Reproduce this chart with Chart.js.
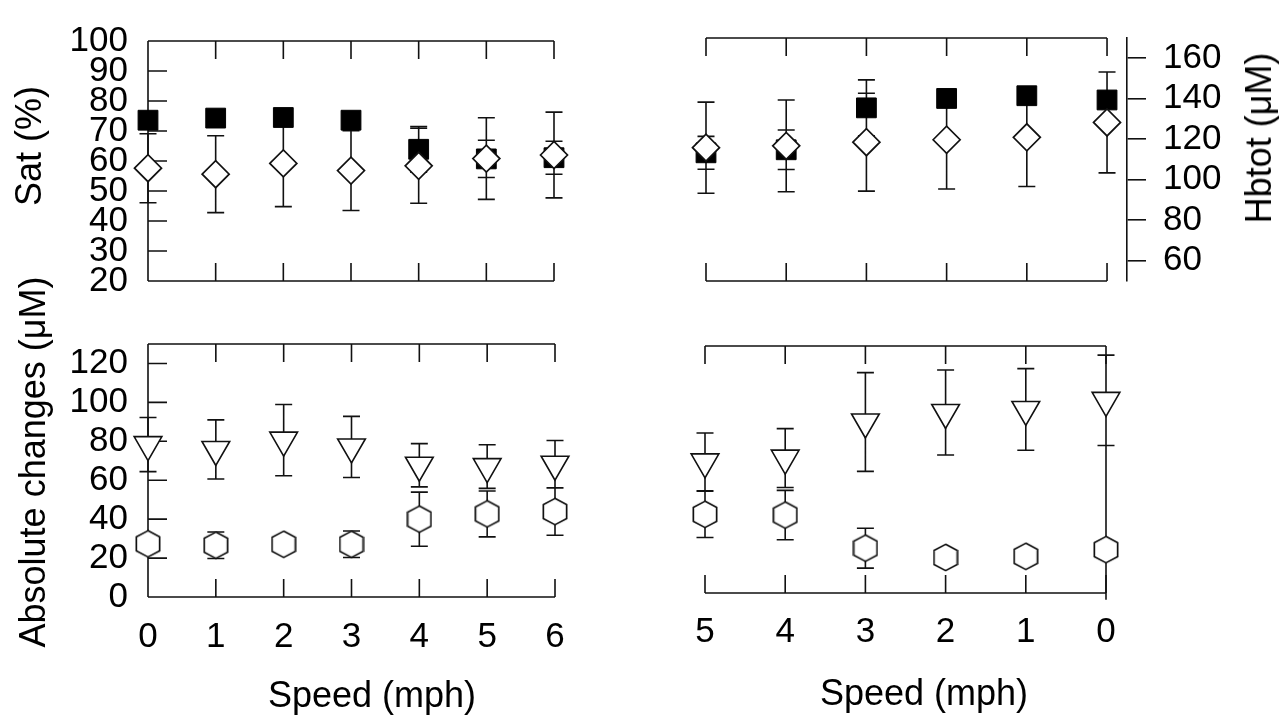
<!DOCTYPE html>
<html>
<head>
<meta charset="utf-8">
<script src="https://cdn.jsdelivr.net/npm/chart.js@4.4.1/dist/chart.umd.min.js"></script>
<style>
html,body{margin:0;padding:0;background:#fff;width:1280px;height:716px;overflow:hidden;}
#wrap{position:relative;width:1280px;height:716px;background:#fff;}
canvas{position:absolute;left:0;top:0;}
.t{position:absolute;font-family:'Liberation Sans',Arial,sans-serif;font-size:36px;color:#000;white-space:nowrap;line-height:1;}
.v{transform:translate(-50%,-50%) rotate(-90deg);}
.h{transform:translate(-50%,-50%);}
</style>
</head>
<body>
<div id="wrap">
<canvas id="cTL" width="1280" height="716"></canvas>
<canvas id="cTR" width="1280" height="716"></canvas>
<canvas id="cBL" width="1280" height="716"></canvas>
<canvas id="cBR" width="1280" height="716"></canvas>
<div class="t v" style="left:29px;top:146px">Sat (%)</div>
<div class="t v" style="left:33px;top:462px">Absolute changes (μM)</div>
<div class="t v" style="left:1259px;top:138px">Hbtot (μM)</div>
<div class="t h" style="left:372px;top:695px">Speed (mph)</div>
<div class="t h" style="left:924px;top:693px">Speed (mph)</div>
</div>
<script>
// ---------- data ----------
const speedL = [0, 1, 2, 3, 4, 5, 6];
const speedR = [5, 4, 3, 2, 1, 0];
const satTicks = [20, 30, 40, 50, 60, 70, 80, 90, 100];
const satInnerTicks = [30, 40, 50, 60, 70, 80, 90];
const hbTicks = [60, 80, 100, 120, 140, 160];
const absTicks = [0, 20, 40, 60, 80, 100, 120];
const absInnerTicks = [20, 40, 60, 80, 100, 120];

// top-left (Sat %, increasing speed)
const satSqL = [73.6, 74.3, 74.5, 73.6, 63.9, 60.7, 61.1];
const satSqLErr = [null, null, null, null, 7.6, 6.2, 5.5];
const satDiaL = [57.6, 55.6, 59.2, 56.8, 58.4, 60.8, 62.0];
const satDiaLErr = [11.5, 12.8, 14.4, 13.3, 12.5, 13.6, 14.3];

// top-right (decreasing speed)
const satSqR = [62.2, 63.2, 77.0, 80.1, 81.0, 79.6];
const satSqRErr = [5.4, 6.5, 9.2, null, null, null];
const satDiaR = [63.9, 64.5, 65.7, 66.5, 67.3, 72.2];
const satDiaRErr = [15.0, 15.1, 16.1, 16.2, 16.2, 16.6];

// bottom-left (absolute changes, µM)
const triL = [78.3, 75.8, 80.6, 77.1, 67.7, 67.0, 68.2];
const triLErr = [13.9, 15.2, 18.3, 15.7, 11.1, 11.2, 12.2];
const hexL = [27.3, 26.6, 27.1, 27.1, 40.0, 42.7, 43.9];
const hexLErr = [null, 6.8, null, 6.8, 13.9, 11.8, 12.2];

// bottom-right
const triR = [69.0, 71.0, 90.0, 95.0, 96.6, 101.4];
const triRErr = [15.2, 15.5, 26.0, 22.4, 21.5, 23.8];
const hexR = [41.4, 41.0, 23.6, 18.7, 19.3, 22.8];
const hexRErrLow = [12.2, 13.0, 10.5, null, null, 26.3];
const hexRErrHigh = [12.2, 13.0, 10.5, null, null, 54.8];

// ---------- styling ----------
const FS = 35;
Chart.defaults.font.family = "'Liberation Sans', Arial, sans-serif";
Chart.defaults.font.size = FS;
Chart.defaults.color = '#000';
const INK = '#111';

function hexImg(w, h, lw) {
  const c = document.createElement('canvas');
  c.width = w; c.height = h;
  const g = c.getContext('2d');
  const m = lw / 2 + 0.5;
  g.beginPath();
  g.moveTo(w / 2, m);
  g.lineTo(w - m, h * 0.26);
  g.lineTo(w - m, h * 0.74);
  g.lineTo(w / 2, h - m);
  g.lineTo(m, h * 0.74);
  g.lineTo(m, h * 0.26);
  g.closePath();
  g.fillStyle = '#fff'; g.fill();
  g.lineWidth = lw; g.strokeStyle = INK; g.stroke();
  return c;
}
const hexPic = hexImg(26, 29, 1.7);

const sqStyle = {pointStyle: 'rect', pointRadius: 14, pointBackgroundColor: '#000', pointBorderColor: '#000', pointBorderWidth: 1};
const diaStyle = {pointStyle: 'rectRot', pointRadius: 13.5, pointBackgroundColor: '#fff', pointBorderColor: INK, pointBorderWidth: 1.7};
const triStyle = {pointStyle: 'triangle', pointRotation: 180, pointRadius: 16, pointBackgroundColor: '#fff', pointBorderColor: INK, pointBorderWidth: 1.6};
const hexStyle = {pointStyle: hexPic, pointRadius: 13, pointBackgroundColor: '#fff', pointBorderColor: INK, pointBorderWidth: 1.6};

function ds(xs, ys, style, lo, hi, yAxisID) {
  return Object.assign({
    data: xs.map((x, i) => ({x: x, y: ys[i]})),
    errLow: lo, errHigh: hi || lo,
    yAxisID: yAxisID || 'y',
    clip: false,
    showLine: false
  }, style);
}

const panelPlugin = {
  id: 'panel',
  beforeDatasetsDraw(chart, args, opts) {
    const ctx = chart.ctx, a = chart.chartArea;
    const xs = chart.scales.x, ys = chart.scales.y;
    ctx.save();
    ctx.strokeStyle = INK;
    ctx.lineWidth = 1.6;
    const x0 = xs.getPixelForValue(opts.xFrom), x1 = xs.getPixelForValue(opts.xTo);
    const yT = a.top, yB = a.bottom;
    ctx.beginPath();
    ctx.moveTo(x0, yT); ctx.lineTo(x1, yT);
    ctx.moveTo(x0, yB); ctx.lineTo(x1, yB);
    opts.xTicks.forEach(v => {
      const px = xs.getPixelForValue(v);
      ctx.moveTo(px, yT); ctx.lineTo(px, yT + 18);
      ctx.moveTo(px, yB); ctx.lineTo(px, yB - 18);
    });
    if (opts.leftAxis) {
      ctx.moveTo(x0, yT); ctx.lineTo(x0, yB);
      opts.yTicks.forEach(v => {
        const py = ys.getPixelForValue(v);
        ctx.moveTo(x0, py); ctx.lineTo(x0 + 19, py);
      });
    }
    ctx.stroke();
    // error bars
    ctx.beginPath();
    chart.data.datasets.forEach((d, i) => {
      if (!d.errLow) return;
      const yS = chart.scales[d.yAxisID || 'y'];
      d.data.forEach((p, j) => {
        const lo = d.errLow[j], hi = d.errHigh[j];
        if (lo == null || hi == null) return;
        const px = xs.getPixelForValue(p.x);
        const pLo = yS.getPixelForValue(p.y - lo);
        const pHi = yS.getPixelForValue(p.y + hi);
        ctx.moveTo(px, pLo); ctx.lineTo(px, pHi);
        [pLo, pHi].forEach(py => {
          if (py >= a.top - 1 && py <= a.bottom + 1) {
            ctx.moveTo(px - 8.5, py); ctx.lineTo(px + 8.5, py);
          }
        });
      });
    });
    ctx.stroke();
    ctx.restore();
  }
};

function fixTicks(list) { return s => { s.ticks = list.map(v => ({value: v})); }; }
const noGrid = {display: false, drawTicks: false};
const noBorder = {display: false};
const tickOpts = (pad) => ({padding: pad, font: {size: FS}, autoSkip: false, maxRotation: 0, minRotation: 0});

const base = {
  responsive: false,
  animation: false,
  devicePixelRatio: 1,
  events: [],
  plugins: {legend: {display: false}, tooltip: {enabled: false}}
};

function make(id, datasets, scales, padding, panel) {
  return new Chart(document.getElementById(id), {
    type: 'scatter',
    data: {datasets: datasets},
    options: Object.assign({}, base, {
      layout: {padding: padding},
      scales: scales,
      plugins: Object.assign({}, base.plugins, {panel: panel})
    }),
    plugins: [panelPlugin]
  });
}

// Top-left
make('cTL',
  [ds(speedL, satDiaL, diaStyle, satDiaLErr), ds(speedL, satSqL, sqStyle, satSqLErr)],
  {
    x: {type: 'linear', display: false, min: 0, max: 6},
    y: {type: 'linear', min: 20, max: 100, afterBuildTicks: fixTicks(satTicks),
        afterFit: s => { s.width = 120; },
        ticks: tickOpts(20), grid: noGrid, border: noBorder}
  },
  {left: 28, right: 726, top: 25, bottom: 435},
  {xFrom: 0, xTo: 6, xTicks: speedL, leftAxis: true, yTicks: satInnerTicks}
);

// Top-right
make('cTR',
  [ds(speedR, satDiaR, diaStyle, satDiaRErr), ds(speedR, satSqR, sqStyle, satSqRErr)],
  {
    x: {type: 'linear', display: false, min: -0.249, max: 5, reverse: true},
    y: {type: 'linear', display: false, min: 20, max: 100},
    y2: {type: 'linear', position: 'right', min: 50, max: 170, afterBuildTicks: fixTicks(hbTicks),
         afterFit: s => { s.width = 130; },
         ticks: tickOpts(17),
         grid: {display: true, drawOnChartArea: false, drawTicks: true, tickLength: 19, color: INK, lineWidth: 1.6},
         border: {display: true, color: INK, width: 1.6}}
  },
  {left: 706, right: 23, top: 25, bottom: 435},
  {xFrom: 5, xTo: 0, xTicks: speedR, leftAxis: false}
);

// Bottom-left
make('cBL',
  [ds(speedL, triL, triStyle, triLErr), ds(speedL, hexL, hexStyle, hexLErr)],
  {
    x: {type: 'linear', min: 0, max: 6, afterBuildTicks: fixTicks(speedL),
        afterFit: s => { s.height = 80; },
        ticks: tickOpts(19), grid: noGrid, border: noBorder},
    y: {type: 'linear', min: 0, max: 130, afterBuildTicks: fixTicks(absTicks),
        afterFit: s => { s.width = 120; },
        ticks: tickOpts(20), grid: noGrid, border: noBorder}
  },
  {left: 28, right: 725, top: 344, bottom: 39},
  {xFrom: 0, xTo: 6, xTicks: speedL, leftAxis: true, yTicks: absInnerTicks}
);

// Bottom-right
make('cBR',
  [ds(speedR, triR, triStyle, triRErr), ds(speedR, hexR, hexStyle, hexRErrLow, hexRErrHigh)],
  {
    x: {type: 'linear', min: 0, max: 5, reverse: true, afterBuildTicks: fixTicks(speedR),
        afterFit: s => { s.height = 80; },
        ticks: tickOpts(18), grid: noGrid, border: noBorder},
    y: {type: 'linear', display: false, min: 0, max: 130}
  },
  {left: 705, right: 174, top: 346, bottom: 43},
  {xFrom: 5, xTo: 0, xTicks: speedR, leftAxis: false}
);
</script>
</body>
</html>
